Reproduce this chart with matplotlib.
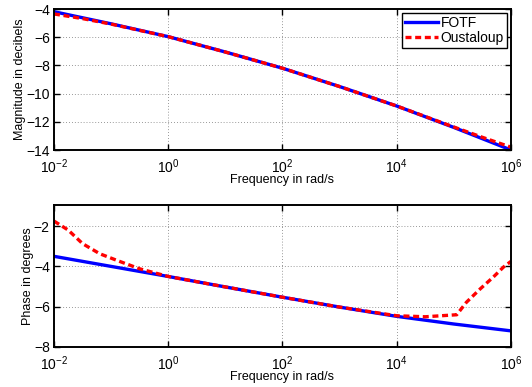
import numpy as np
import matplotlib
matplotlib.use("Agg")
import matplotlib.pyplot as plt
from matplotlib.ticker import FixedLocator, LogFormatterMathtext, NullLocator

plt.rcParams['font.family'] = ['Liberation Sans', 'DejaVu Sans']
plt.rcParams['mathtext.fontset'] = 'custom'
plt.rcParams['mathtext.rm'] = 'Liberation Sans'

# Magnitude (dB)
mag_logw = [-2, -1, 0, 1, 2, 3, 4, 5, 6]
mag_fotf = [-4.19, -5.05, -5.96, -7.05, -8.2, -9.5, -10.88, -12.4, -14.0]
mag_oust_logw = [-2, -1.5, -1, 0, 1, 2, 3, 4, 5, 5.5, 6]
mag_oust = [-4.35, -4.68, -5.07, -5.96, -7.05, -8.2, -9.5, -10.88, -12.37, -13.1, -13.8]

# Phase (degrees)
ph_logw = [-2, -1, 0, 1, 2, 3, 4, 5, 6]
ph_fotf = [-3.5, -4.0, -4.5, -5.02, -5.53, -6.02, -6.48, -6.86, -7.2]
ph_oust_logw = [-2, -1.75, -1.5, -1.2, -0.9, -0.5, 0, 1, 2, 3, 4, 4.5, 5.05, 5.22, 5.46, 5.69, 5.87, 6]
ph_oust = [-1.75, -2.2, -2.87, -3.37, -3.7, -4.12, -4.5, -5.02, -5.53, -6.02, -6.45, -6.5, -6.4, -5.78, -5.12, -4.53, -4.03, -3.75]

xticks = [1e-2, 1e0, 1e2, 1e4, 1e6]

fig = plt.figure(figsize=(5.32, 3.87), dpi=100)
ax1 = fig.add_axes([0.1015, 0.6124, 0.859, 0.3643])
ax2 = fig.add_axes([0.1015, 0.1034, 0.859, 0.367])

blue = '#0000ff'
red = '#ff0000'
dash = (0, (1.8, 1.1))

ax1.plot(10.0 ** np.array(mag_logw), mag_fotf, color=blue, lw=2.4, label='FOTF')
ax1.plot(10.0 ** np.array(mag_oust_logw), mag_oust, color=red, lw=2.4, ls=dash, label='Oustaloup')
ax2.plot(10.0 ** np.array(ph_logw), ph_fotf, color=blue, lw=2.4)
ax2.plot(10.0 ** np.array(ph_oust_logw), ph_oust, color=red, lw=2.4, ls=dash)

ax1.set_ylim(-14, -4)
ax1.set_yticks([-14, -12, -10, -8, -6, -4])
ax2.set_ylim(-8, -0.95)
ax2.set_yticks([-8, -6, -4, -2])

for ax in (ax1, ax2):
    ax.set_xscale('log')
    ax.set_xlim(1e-2, 1e6)
    ax.xaxis.set_major_locator(FixedLocator(xticks))
    ax.xaxis.set_minor_locator(NullLocator())
    ax.xaxis.set_major_formatter(LogFormatterMathtext())
    ax.grid(True, ls=(0, (1, 2.5)), color='#777777', lw=0.6)
    ax.tick_params(direction='in', length=4, width=1, labelsize=10, top=True, right=True, pad=3)
    ax.tick_params(axis='x', pad=5)
    for s in ax.spines.values():
        s.set_linewidth(1.4)
    ax.set_xlabel('Frequency in rad/s', fontsize=9, labelpad=-1)
    yticks = ax.get_yticks()
    ax.set_yticklabels(['\u2212%d' % abs(int(t)) for t in yticks])

ax1.set_ylabel('Magnitude in decibels', fontsize=9, labelpad=0)
ax2.set_ylabel('Phase in degrees', fontsize=9, labelpad=0)

leg = ax1.legend(loc='upper right', fontsize=10, fancybox=False, edgecolor='black',
                 framealpha=1, borderaxespad=0.3, handlelength=2.4, borderpad=0.2,
                 labelspacing=0.1, handletextpad=0.2)
leg.get_frame().set_linewidth(1.0)

fig.savefig('out.png', dpi=100)
